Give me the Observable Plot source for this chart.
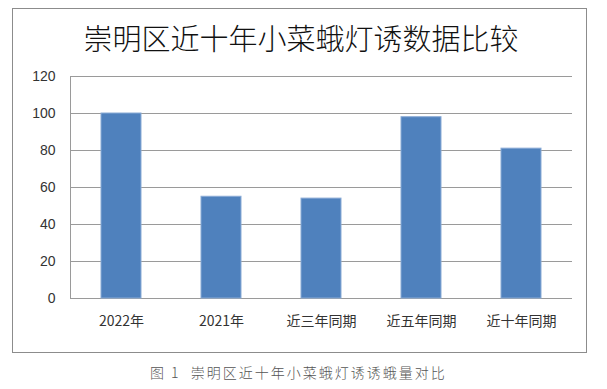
<!DOCTYPE html>
<html>
<head>
<meta charset="utf-8">
<script src="https://cdn.jsdelivr.net/npm/d3@7"></script>
<script src="https://cdn.jsdelivr.net/npm/@observablehq/plot@0.6"></script>
<style>
  html, body { margin: 0; padding: 0; background: #fff; }
  body { position: relative; width: 607px; height: 389px; overflow: hidden; font-family: "Liberation Sans", "Noto Sans CJK SC", sans-serif; }
  #box { position: absolute; left: 12px; top: 8px; width: 575px; height: 345px; box-sizing: border-box; border: 1px solid #8c8c8c; }
  #title { position: absolute; left: 0; top: 20px; width: 602px; text-align: center; font-family: "Noto Sans CJK SC", sans-serif; font-weight: 300; font-size: 29px; line-height: 34px; color: #111; }
  #chart { position: absolute; left: 0; top: 60px; }
  #caption { position: absolute; left: 150px; top: 362px; font-family: "Noto Sans CJK SC", sans-serif; font-weight: 300; font-size: 14px; line-height: 20px; letter-spacing: 2px; color: #555; white-space: pre; }
</style>
</head>
<body>
<div id="box"></div>
<div id="title">崇明区近十年小菜蛾灯诱数据比较</div>
<div id="chart"></div>
<div id="caption">图 1  崇明区近十年小菜蛾灯诱诱蛾量对比</div>
<script>
const categories = ["2022年", "2021年", "近三年同期", "近五年同期", "近十年同期"];
const values = [100, 55, 54, 98, 81];
const yTicks = [0, 20, 40, 60, 80, 100, 120];

const data = categories.map((c, i) => ({category: c, value: values[i]}));

const chart = Plot.plot({
  width: 607,
  height: 280,
  marginLeft: 70,
  marginRight: 35,
  marginTop: 16,
  marginBottom: 42,
  style: {fontFamily: "'Liberation Sans', 'Noto Sans CJK SC', sans-serif", background: "transparent"},
  x: {domain: categories, paddingInner: 0.6, paddingOuter: 0.3, label: null},
  y: {domain: [0, 120], label: null},
  marks: [
    Plot.gridY(yTicks, {stroke: "#9a9a9a", strokeOpacity: 1, strokeWidth: 1}),
    Plot.frame({anchor: "left", stroke: "#9a9a9a"}),
    Plot.ruleY([0], {stroke: "#9a9a9a"}),
    Plot.barY(data, {x: "category", y: "value", fill: "#4f81bd", stroke: "#8aabd6", strokeWidth: 1}),
    Plot.axisY(yTicks, {tickSize: 0, tickPadding: 15, fontSize: 14, fill: "#333", tickFormat: d => String(d)}),
    Plot.axisX({tickSize: 0, tickPadding: 18, fontSize: 14, fill: "#333", fontFamily: "'Noto Sans CJK SC', sans-serif"})
  ]
});
document.getElementById("chart").appendChild(chart);
</script>
</body>
</html>
